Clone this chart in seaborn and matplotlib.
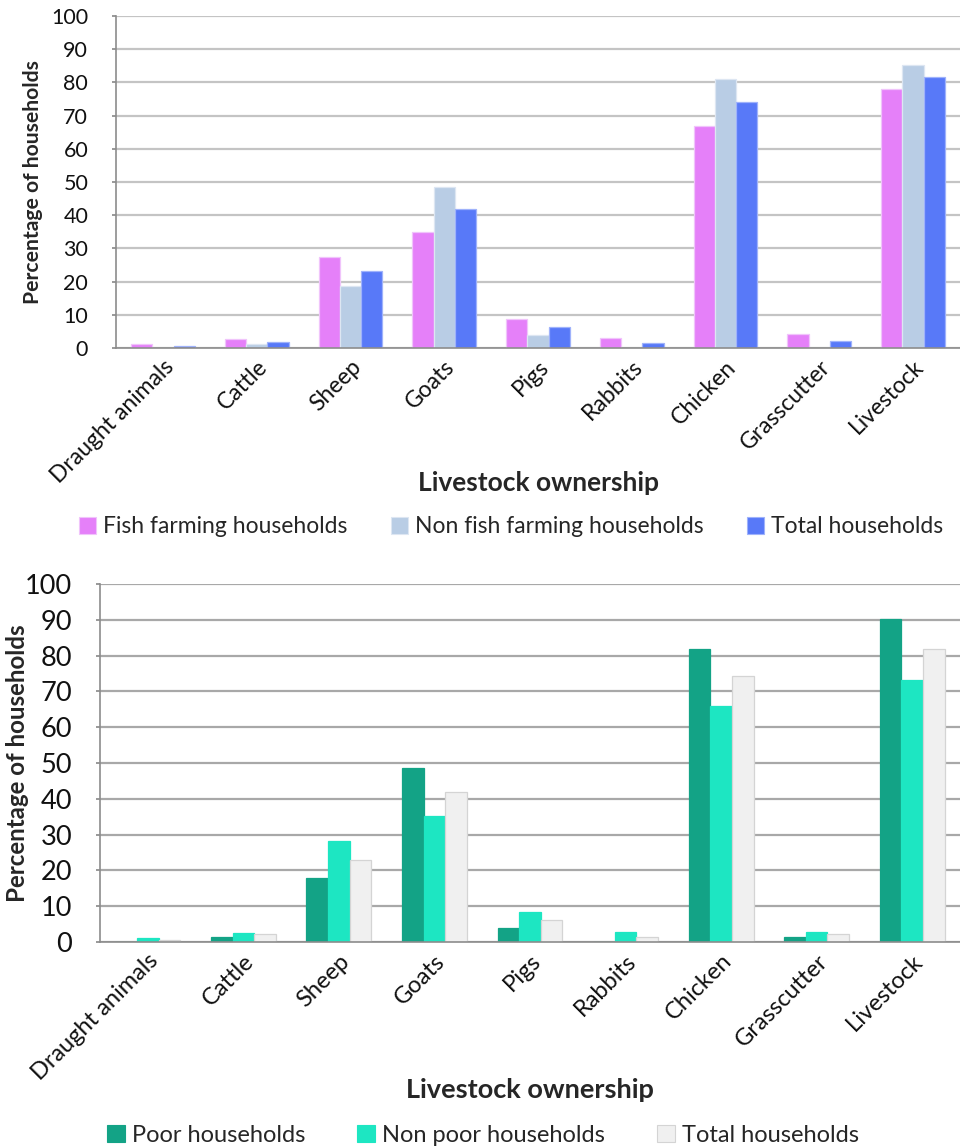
import numpy as np
import pandas as pd
import matplotlib
matplotlib.use("Agg")
import matplotlib.pyplot as plt
import seaborn as sns
from matplotlib.patches import Patch

categories = ["Draught animals", "Cattle", "Sheep", "Goats", "Pigs",
              "Rabbits", "Chicken", "Grasscutter", "Livestock"]

# Livestock ownership by fish farming status (%)
fish_farming = [1.3, 2.8, 27.4, 35.0, 8.6, 2.9, 66.9, 4.3, 78.0]
non_fish_farming = [0.0, 1.1, 18.8, 48.5, 3.9, 0.0, 81.0, 0.0, 85.2]
total_fish = [0.5, 1.9, 23.2, 42.0, 6.2, 1.5, 74.0, 2.0, 81.6]
fish_series = ["Fish farming households", "Non fish farming households", "Total households"]

# Livestock ownership by poverty status (%)
poor = [0.0, 1.3, 17.9, 48.6, 3.9, 0.0, 81.8, 1.4, 90.3]
non_poor = [1.2, 2.6, 28.2, 35.2, 8.3, 2.7, 66.0, 2.7, 73.2]
total_poor = [0.5, 2.1, 22.9, 41.9, 6.1, 1.3, 74.2, 2.1, 81.8]
poor_series = ["Poor households", "Non poor households", "Total households"]

y_ticks = list(range(0, 101, 10))


def long_frame(series_names, values):
    rows = []
    for name, vals in zip(series_names, values):
        for cat, v in zip(categories, vals):
            rows.append({"category": cat, "series": name, "value": v})
    return pd.DataFrame(rows)


sns.set_theme(style="white")
plt.rcParams["font.family"] = ["Lato", "DejaVu Sans"]

fig = plt.figure(figsize=(9.6, 11.46), dpi=100)
W, H = 960, 1146


def axes_px(left, top, right, bottom):
    return fig.add_axes([left / W, 1 - bottom / H, (right - left) / W, (bottom - top) / H])


def draw_panel(ax, df, series_names, colors, edges, grid_color, sizes, legend_xy, col_space,
               xlabel_y, ylabel_x):
    ytick_size, xtick_size, ylab_size, xlab_size, leg_size = sizes
    pal = dict(zip(series_names, colors))
    sns.barplot(data=df, x="category", y="value", hue="series", hue_order=series_names,
                order=categories, palette=pal, width=0.68, gap=0, ax=ax,
                legend=False, saturation=1)
    n = len(categories)
    for i, patch in enumerate(ax.patches):
        s = i // n
        patch.set_edgecolor(edges[s])
        patch.set_linewidth(0.9)
    ax.set_ylim(0, 100)
    ax.set_yticks(y_ticks)
    ax.set_xlim(-0.5, n - 0.5)
    ax.yaxis.grid(True, color=grid_color, linewidth=1.6)
    ax.set_axisbelow(True)
    for side in ["top", "right"]:
        ax.spines[side].set_visible(False)
    for side in ["left", "bottom"]:
        ax.spines[side].set_color("#8c8c8c")
        ax.spines[side].set_linewidth(1.2)
    ax.tick_params(axis="y", labelsize=ytick_size, length=3, color="#8c8c8c", left=True,
                   pad=17, labelcolor="#111111")
    ax.tick_params(axis="x", labelsize=xtick_size, length=0, pad=6, labelcolor="#111111")
    plt.setp(ax.get_xticklabels(), rotation=45, ha="right", rotation_mode="anchor")
    ax.set_xlabel("")
    ax.set_ylabel("")
    bbox = ax.get_position()
    fig.text(ylabel_x / W, (bbox.y0 + bbox.y1) / 2, "Percentage of households",
             rotation=90, ha="center", va="center", fontsize=ylab_size, fontweight="bold")
    fig.text((bbox.x0 + bbox.x1) / 2, 1 - xlabel_y / H, "Livestock ownership",
             ha="center", va="center", fontsize=xlab_size, fontweight="bold")
    handles = [Patch(facecolor=c, edgecolor=e, linewidth=0.8) for c, e in zip(colors, edges)]
    fig.legend(handles, series_names, loc="center",
               bbox_to_anchor=(legend_xy[0] / W, 1 - legend_xy[1] / H),
               ncol=3, frameon=False, fontsize=leg_size, handlelength=0.75, handleheight=0.75,
               handletextpad=0.3, columnspacing=col_space)


ax1 = axes_px(116, 16, 960, 348)
draw_panel(ax1, long_frame(fish_series, [fish_farming, non_fish_farming, total_fish]),
           fish_series, ["#E580F9", "#B9CDE5", "#5879F8"],
           ["#F0C4FB", "#DDE6F2", "#9FB2FB"], "#c4c4c4",
           (15.5, 16.5, 15.2, 19.0, 16.5), (511, 527), 1.9, 483, 33)

ax2 = axes_px(100, 584, 960, 942)
draw_panel(ax2, long_frame(poor_series, [poor, non_poor, total_poor]),
           poor_series, ["#13A386", "#1DE6C2", "#F0F0F0"],
           ["#13A386", "#1DE6C2", "#D4D4D4"], "#a8a8a8",
           (19.5, 17.0, 17.4, 19.5, 17.0), (483, 1135), 2.2, 1090, 18)

fig.savefig("out.png", dpi=100, facecolor="white")
